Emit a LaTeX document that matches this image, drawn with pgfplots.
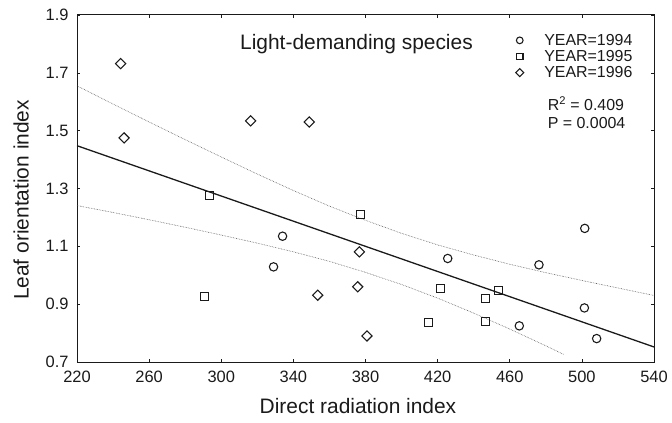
\documentclass[border=0pt]{standalone}
\usepackage{fontspec}
\setmainfont{Liberation Sans}
\usepackage{pgfplots}
\pgfplotsset{compat=1.18}
\definecolor{ink}{HTML}{1A1A1A}
\definecolor{dotc}{HTML}{555555}
\begin{document}
\begin{tikzpicture}
\useasboundingbox (-77bp,-61bp) rectangle (595bp,362bp);
\begin{axis}[
  at={(0,0)}, anchor=south west,
  scale only axis, width=577bp, height=347bp,
  xmin=220, xmax=540, ymin=0.7, ymax=1.9,
  xtick={220,260,300,340,380,420,460,500,540},
  ytick={0.7,0.9,1.1,1.3,1.5,1.7,1.9},
  tick align=inside, major tick length=3bp,
  tick style={ink, line width=0.6pt},
  axis line style={ink, line width=1pt},
  /pgf/number format/assume math mode=true,
  ticklabel style={font=\fontsize{16.5}{16.5}\selectfont, ink},
  xticklabel style={yshift=-6bp},
  yticklabel style={xshift=-5bp},
  y tick label style={/pgf/number format/.cd,fixed,fixed zerofill,precision=1},
  xlabel={Direct radiation index},
  ylabel={Leaf orientation index},
  label style={font=\fontsize{21}{21}\selectfont, ink},
  xlabel style={at={(axis description cs:0.487,0)}, anchor=center, yshift=-44bp},
  ylabel style={at={(axis description cs:-0.097,0.467)}, anchor=center},
  legend style={at={(axis cs:461,1.84)}, anchor=north west, draw=none, fill=none,
    font=\fontsize{16}{16}\selectfont, row sep=0.5bp, inner sep=0pt,
    nodes={inner sep=1.5bp, text=ink}},
  legend cell align=left,
  legend image code/.code={\path[draw=none,fill=none] (0bp,-0.5bp) rectangle (31bp,0.5bp); \draw[#1, scale=0.8] plot coordinates {(10bp,0bp)};},
  clip=true,
]
% confidence band, upper
\addplot[dotc, densely dotted, line width=0.6pt, forget plot] coordinates {
(220,1.655) (240,1.592) (260,1.530) (280,1.469) (300,1.409) (320,1.350)
(340,1.293) (360,1.239) (380,1.190) (400,1.145) (420,1.105) (440,1.070)
(460,1.038) (480,1.009) (500,0.982) (520,0.956) (540,0.930)};
% confidence band, lower
\addplot[dotc, densely dotted, line width=0.6pt, forget plot] coordinates {
(220,1.241) (240,1.217) (260,1.192) (280,1.166) (300,1.139) (320,1.111)
(340,1.081) (360,1.048) (380,1.010) (400,0.968) (420,0.921) (440,0.869)
(460,0.814) (480,0.756) (490,0.726)};
% regression line
\addplot[ink, line width=1.3pt, forget plot] coordinates {(220,1.448) (540,0.752)};
% 1994
\addplot[ink, only marks, mark=o, mark size=4.2bp, line width=1.1pt] coordinates {
(334,1.135) (329,1.029) (425.6,1.058) (476.2,1.036) (501.6,1.162)
(501.4,0.887) (465.3,0.825) (508.2,0.781)};
\addlegendentry{YEAR=1994}
% 1995
\addplot[ink, only marks, mark=square, mark size=4bp, line width=1.1pt] coordinates {
(293.4,1.277) (290.6,0.928) (377.3,1.210) (421.5,0.954) (414.7,0.837)
(446.8,0.920) (453.7,0.948) (446.8,0.839)};
\addlegendentry{YEAR=1995}
% 1996
\addplot[ink, only marks, mark=square, mark size=3.6bp, mark options={rotate=45}, line width=1.1pt] coordinates {
(244.2,1.732) (246.1,1.475) (316.3,1.534) (348.8,1.530) (353.5,0.931)
(375.7,0.960) (380.8,0.790) (376.6,1.081)};
\addlegendentry{YEAR=1996}
\node[font=\fontsize{21}{21}\selectfont, text=ink] at (axis cs:375,1.80) {Light-demanding species};
\node[anchor=west, align=left, font=\fontsize{16}{18}\selectfont, text=ink, inner sep=0pt] at (axis cs:481,1.563) {R\textsuperscript{2} = 0.409\\P = 0.0004};
\end{axis}
\end{tikzpicture}
\end{document}
